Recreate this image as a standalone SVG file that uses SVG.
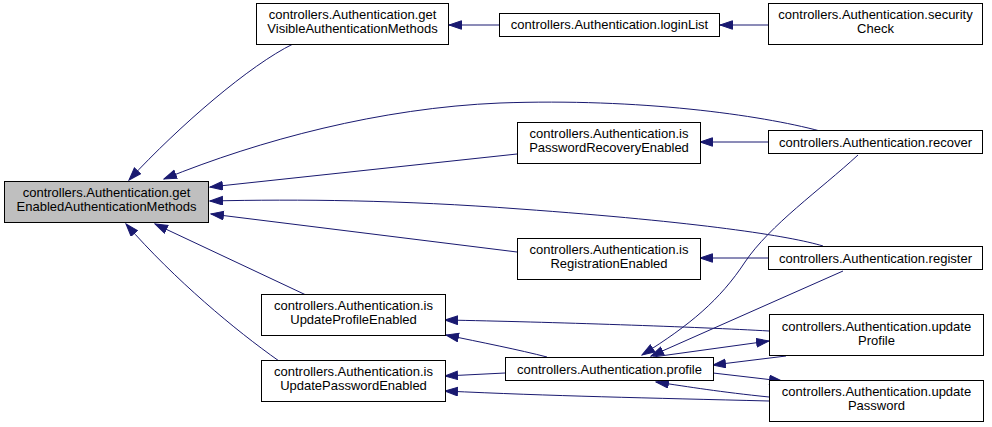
<svg xmlns="http://www.w3.org/2000/svg" width="992" height="427" viewBox="0 0 992 427">
<defs>
<marker id="ah" markerUnits="userSpaceOnUse" markerWidth="14" markerHeight="11" refX="13" refY="4.75" orient="auto">
<path d="M0.5,0.5 L13,4.75 L0.5,9 z" fill="#191970" stroke="#191970" stroke-width="1"/>
</marker>
<style>
.n rect{fill:#fff;stroke:#000;stroke-width:1}
.n.main rect{fill:#bfbfbf}
.n text{font-family:"Liberation Sans",Arial,Helvetica,sans-serif;font-size:13px;fill:#000;text-anchor:middle}
#edges path{fill:none;stroke:#191970;stroke-width:1;marker-end:url(#ah)}
</style>
</defs>
<rect width="992" height="427" fill="#fff"/>
<g id="edges">
<path d="M293,44 C250,65 180,125 129,180"/>
<path d="M820,131 C760,115 640,98 500,103 C380,108 260,140 164,179"/>
<path d="M517,154 L210,187"/>
<path d="M823,246 C790,236 700,222 520,209 C400,200 300,199 210,201"/>
<path d="M517,252 L211,214"/>
<path d="M306,295 L155,224"/>
<path d="M279,361 C235,330 175,280 126,224"/>
<path d="M499,25 L449,25"/>
<path d="M768,25 L720,25"/>
<path d="M768,142 L700,142"/>
<path d="M768,258 L700,258"/>
<path d="M769,331 C700,327 550,322 445,320"/>
<path d="M547,357 C520,350 480,342 446,335"/>
<path d="M505,373 L445,376"/>
<path d="M769,401 C650,398 550,396 445,391"/>
<path d="M858,155 C820,190 770,225 745,262 C720,300 690,325 642,355"/>
<path d="M843,271 L651,356"/>
<path d="M786,356 L713,365"/>
<path d="M653,357 L769,341"/>
<path d="M713,373 L782,381"/>
<path d="M769,397 C720,392 690,387 656,382"/>
</g>
<g id="getEnabled" class="n main"><rect x="4.5" y="181.5" width="204" height="41"/><text x="106.5" y="197">controllers.Authentication.get</text><text x="106.5" y="211">EnabledAuthenticationMethods</text></g>
<g id="getVisible" class="n"><rect x="256.5" y="3.5" width="192" height="41"/><text x="352.5" y="19">controllers.Authentication.get</text><text x="352.5" y="33">VisibleAuthenticationMethods</text></g>
<g id="loginList" class="n"><rect x="499.5" y="13.5" width="220" height="23"/><text x="609.5" y="29">controllers.Authentication.loginList</text></g>
<g id="securityCheck" class="n"><rect x="768.5" y="3.5" width="214" height="41"/><text x="875.5" y="19">controllers.Authentication.security</text><text x="875.5" y="33">Check</text></g>
<g id="isPasswordRecoveryEnabled" class="n"><rect x="517.5" y="122.5" width="183" height="41"/><text x="609" y="138">controllers.Authentication.is</text><text x="609" y="152">PasswordRecoveryEnabled</text></g>
<g id="recover" class="n"><rect x="768.5" y="130.5" width="214" height="23"/><text x="875.5" y="146.5">controllers.Authentication.recover</text></g>
<g id="isRegistrationEnabled" class="n"><rect x="517.5" y="238.5" width="183" height="41"/><text x="609" y="254">controllers.Authentication.is</text><text x="609" y="268">RegistrationEnabled</text></g>
<g id="register" class="n"><rect x="768.5" y="246.5" width="214" height="23"/><text x="875.5" y="262.5">controllers.Authentication.register</text></g>
<g id="isUpdateProfileEnabled" class="n"><rect x="261.5" y="294.5" width="184" height="41"/><text x="353.5" y="310">controllers.Authentication.is</text><text x="353.5" y="324">UpdateProfileEnabled</text></g>
<g id="isUpdatePasswordEnabled" class="n"><rect x="261.5" y="360.5" width="184" height="41"/><text x="353.5" y="376">controllers.Authentication.is</text><text x="353.5" y="390">UpdatePasswordEnabled</text></g>
<g id="profile" class="n"><rect x="505.5" y="357.5" width="208" height="23"/><text x="609.5" y="373.5">controllers.Authentication.profile</text></g>
<g id="updateProfile" class="n"><rect x="769.5" y="314.5" width="214" height="41"/><text x="876.5" y="330.5">controllers.Authentication.update</text><text x="876.5" y="344.5">Profile</text></g>
<g id="updatePassword" class="n"><rect x="769.5" y="380.5" width="214" height="41"/><text x="876.5" y="396">controllers.Authentication.update</text><text x="876.5" y="410">Password</text></g>
</svg>
